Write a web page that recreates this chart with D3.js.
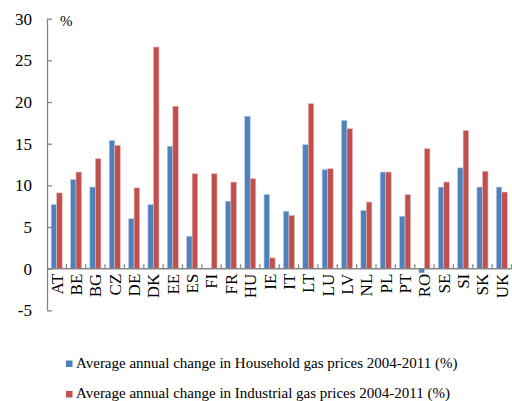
<!DOCTYPE html>
<html>
<head>
<meta charset="utf-8">
<script src="https://cdn.jsdelivr.net/npm/d3@7"></script>
<style>
  html, body { margin: 0; padding: 0; background: #fff; }
  svg { display: block; }
  text { font-family: "Liberation Serif", "Times New Roman", serif; fill: #000; }
</style>
</head>
<body>
<svg id="chart" width="512" height="401"></svg>
<script>
// Average annual change in gas prices 2004-2011, by country (%)
const countries = ["AT","BE","BG","CZ","DE","DK","EE","ES","FI","FR","HU","IE",
                   "IT","LT","LU","LV","NL","PL","PT","RO","SE","SI","SK","UK"];
const household = [7.7, 10.7, 9.8, 15.4, 6.0, 7.7, 14.7, 3.9, 0, 8.1, 18.3, 8.9,
                   6.9, 14.9, 11.9, 17.8, 7.0, 11.6, 6.3, -0.5, 9.8, 12.1, 9.8, 9.8];
const industrial = [9.1, 11.6, 13.2, 14.8, 9.7, 26.6, 19.5, 11.4, 11.4, 10.4, 10.8, 1.3,
                    6.4, 19.8, 12.0, 16.8, 8.0, 11.6, 8.9, 14.4, 10.4, 16.6, 11.7, 9.2];
const yTicks = [-5, 0, 5, 10, 15, 20, 25, 30];
const seriesNames = [
  "Average annual change in Household gas prices 2004-2011 (%)",
  "Average annual change in Industrial gas prices 2004-2011 (%)"
];
const seriesColors = ["#4F81BD", "#C0504D"];
const seriesEdges = ["#b9cde5", "#e6b9b8"];

const svg = d3.select("#chart");
const plotLeft = 47, plotRight = 511.5, plotTop = 18.7, plotBottom = 310.4;

const y = d3.scaleLinear().domain([-5, 30]).range([plotBottom, plotTop]);
const x = d3.scaleBand().domain(countries).range([plotLeft, plotRight]).paddingInner(0).paddingOuter(0);
const xs = d3.scaleBand().domain([0, 1]).range([0, x.bandwidth()]).paddingInner(0).paddingOuter(0.75);

const axisColor = "#868686";

// bars
const series = [household, industrial];
series.forEach((vals, si) => {
  svg.append("g").selectAll("rect")
    .data(countries.map((c, i) => ({ c, v: vals[i] })))
    .join("rect")
    .attr("x", d => x(d.c) + xs(si))
    .attr("width", xs.bandwidth())
    .attr("y", d => y(Math.max(0, d.v)))
    .attr("height", d => Math.abs(y(d.v) - y(0)))
    .attr("fill", seriesColors[si])
    .attr("stroke", seriesEdges[si])
    .attr("stroke-width", 0.6)
    .attr("stroke-opacity", d => d.v === 0 ? 0 : 1);
});

// y axis
const yAxis = d3.axisRight(y).tickValues(yTicks).tickSize(5).tickFormat("");
const gy = svg.append("g").attr("transform", `translate(${plotLeft},0)`).call(yAxis);
gy.select(".domain").attr("stroke", axisColor).attr("stroke-width", 1.3).attr("d", `M0.5,${plotTop}V${plotBottom}`);
gy.selectAll(".tick line").attr("stroke", axisColor).attr("stroke-width", 1.3);

svg.append("g").selectAll("text")
  .data(yTicks)
  .join("text")
  .attr("x", 32)
  .attr("y", d => y(d))
  .attr("dy", "0.35em")
  .attr("text-anchor", "end")
  .attr("font-size", 17)
  .text(d => d);

// x axis at zero with category boundary ticks
const x0 = y(0);
svg.append("line")
  .attr("x1", plotLeft).attr("x2", plotRight)
  .attr("y1", x0).attr("y2", x0)
  .attr("stroke", axisColor).attr("stroke-width", 1.3);
const bounds = countries.map(c => x(c) + x.step());
svg.append("g").selectAll("line")
  .data(bounds)
  .join("line")
  .attr("x1", d => d).attr("x2", d => d)
  .attr("y1", x0).attr("y2", x0 - 4.5)
  .attr("stroke", axisColor).attr("stroke-width", 1.3);

// category labels, rotated
svg.append("g").selectAll("text")
  .data(countries)
  .join("text")
  .attr("transform", d => `translate(${x(d) + x.bandwidth() / 2},${x0 + 5}) rotate(-90)`)
  .attr("text-anchor", "end")
  .attr("dy", "0.35em")
  .attr("font-size", 17)
  .text(d => d);

// unit label
svg.append("text")
  .attr("x", 60).attr("y", 26)
  .attr("font-size", 15)
  .text("%");

// legend
const lg = svg.append("g");
seriesNames.forEach((name, i) => {
  const base = 367.5 + i * 30.5;
  lg.append("rect")
    .attr("x", 66).attr("y", base - 7)
    .attr("width", 6.5).attr("height", 6.5)
    .attr("fill", seriesColors[i]);
  lg.append("text")
    .attr("x", 76).attr("y", base)
    .attr("font-size", 15)
    .text(name);
});
</script>
</body>
</html>
